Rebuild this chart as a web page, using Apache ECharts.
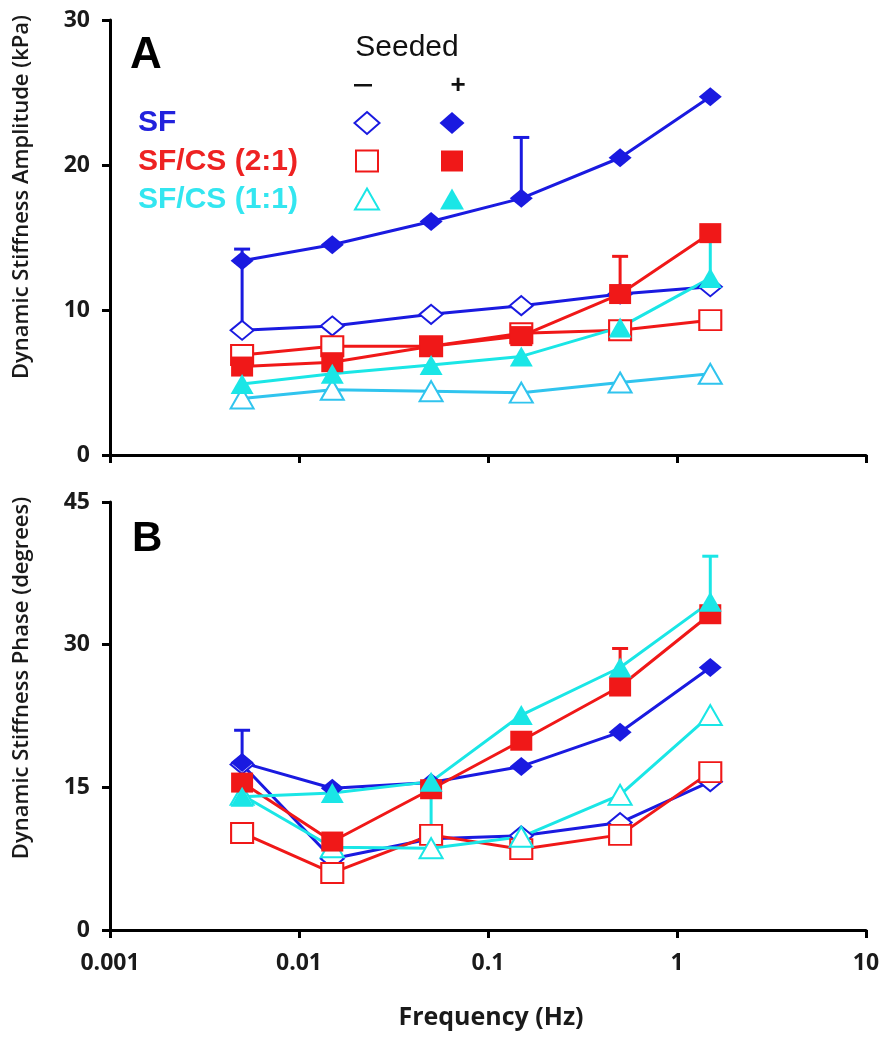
<!DOCTYPE html>
<html>
<head>
<meta charset="utf-8">
<script src="https://cdn.jsdelivr.net/npm/echarts@6/dist/echarts.min.js"></script>
<style>html,body{margin:0;padding:0;background:#fff}#c{width:891px;height:1050px}</style>
</head>
<body>
<div id="c"></div>
<script>
// ---------- data ----------
const freq = [0.005, 0.015, 0.05, 0.15, 0.5, 1.5];
const xTickLabels = ['0.001', '0.01', '0.1', '1', '10'];
const ampTicks = [0, 10, 20, 30];
const phaseTicks = [0, 15, 30, 45];

// Panel A: Dynamic stiffness amplitude (kPa)
const ampSFSeeded     = [13.4, 14.5, 16.1, 17.7, 20.5, 24.7];
const ampSFUnseeded   = [8.6, 8.9, 9.7, 10.3, 11.1, 11.6];
const ampCS21Seeded   = [6.1, 6.4, 7.5, 8.2, 11.1, 15.3];
const ampCS21Unseeded = [6.9, 7.5, 7.5, 8.4, 8.6, 9.3];
const ampCS11Seeded   = [4.9, 5.6, 6.2, 6.8, 8.8, 12.2];
const ampCS11Unseeded = [3.9, 4.5, 4.4, 4.3, 5.0, 5.6];
// error bar tops (null = none)
const ampSFSeededErr     = [14.2, null, null, 21.9, null, null];
const ampSFUnseededErr   = [13.3, null, null, null, null, null];
const ampCS21SeededErr   = [null, null, null, null, 13.7, null];
const ampCS11SeededErr   = [null, null, null, null, null, 15.0];

// Panel B: Dynamic stiffness phase (degrees)
const phSFSeeded     = [17.6, 14.9, 15.5, 17.2, 20.8, 27.6];
const phSFUnseeded   = [17.4, 7.5, 9.6, 9.9, 11.3, 15.6];
const phCS21Seeded   = [15.5, 9.3, 14.8, 19.9, 25.6, 33.2];
const phCS21Unseeded = [10.2, 6.0, 10.0, 8.5, 10.0, 16.6];
const phCS11Seeded   = [14.0, 14.4, 15.6, 22.6, 27.6, 34.5];
const phCS11Unseeded = [14.2, 8.7, 8.6, 9.8, 14.2, 22.6];
const phSFSeededErr     = [21.0, null, null, null, null, null];
const phCS21SeededErr   = [null, null, null, null, 29.6, null];
const phCS11SeededErr   = [null, null, null, null, null, 39.3];
const phCS11UnseededErr = [null, null, 15.2, null, null, null];

// ---------- styling ----------
const BLUE = '#1a1ae0', RED = '#f01818', CYAN = '#1ae6e6', SKY = '#30c4ee';
const SYM = { diamond: [23, 19], rect: [22, 20], triangle: [23, 20] };
const FONT = '"Open Sans", "DejaVu Sans", sans-serif';
const ARIAL = '"Liberation Sans", Arial, sans-serif';

function pairs(ys) { return freq.map((f, i) => [f, ys[i]]); }

function lineSeries(ys, idx, color, symbol, filled, lineColor) {
  return {
    type: 'line', xAxisIndex: idx, yAxisIndex: idx,
    data: pairs(ys), symbol: symbol, symbolSize: SYM[symbol],
    showSymbol: true, silent: true, animation: false,
    lineStyle: { color: lineColor || color, width: 3 },
    itemStyle: filled ? { color: color, borderWidth: 0, opacity: 1 }
                      : { color: '#ffffff', borderColor: color, borderWidth: 2, opacity: 1 },
    emphasis: { disabled: true }, z: 2
  };
}

function errSeries(ys, tops, idx, color) {
  const d = [];
  freq.forEach((f, i) => { if (tops[i] != null) d.push([f, ys[i], tops[i]]); });
  return {
    type: 'custom', xAxisIndex: idx, yAxisIndex: idx, data: d, silent: true, animation: false,
    encode: { x: 0, y: [1, 2] }, z: 1,
    renderItem: function (params, api) {
      const p0 = api.coord([api.value(0), api.value(1)]);
      const p1 = api.coord([api.value(0), api.value(2)]);
      return { type: 'group', children: [
        { type: 'line', shape: { x1: p0[0], y1: p0[1], x2: p1[0], y2: p1[1] }, style: { stroke: color, lineWidth: 3 } },
        { type: 'line', shape: { x1: p1[0] - 8, y1: p1[1], x2: p1[0] + 8, y2: p1[1] }, style: { stroke: color, lineWidth: 3 } }
      ]};
    }
  };
}

function xAxis(idx, showLabels) {
  return {
    type: 'log', logBase: 10, min: 0.001, max: 10, gridIndex: idx,
    axisLine: { show: true, onZero: false, lineStyle: { color: '#000', width: 3 } },
    axisTick: { show: true, inside: false, length: 8, lineStyle: { color: '#000', width: 3 } },
    axisLabel: {
      show: showLabels, margin: 22, color: '#1a1a1a', fontFamily: FONT, fontWeight: 'bold', fontSize: 23,
      formatter: function (v) { const k = Math.round(Math.log10(v)) + 3; return xTickLabels[k] != null ? xTickLabels[k] : ''; }
    },
    splitLine: { show: false }, minorTick: { show: false }
  };
}

function yAxis(idx, ticks) {
  return {
    type: 'value', gridIndex: idx, min: ticks[0], max: ticks[ticks.length - 1],
    interval: ticks[1] - ticks[0],
    axisLine: { show: true, lineStyle: { color: '#000', width: 3 } },
    axisTick: { show: true, inside: false, length: 8, lineStyle: { color: '#000', width: 3 } },
    axisLabel: { margin: 20, color: '#1a1a1a', fontFamily: FONT, fontWeight: 'bold', fontSize: 23 },
    splitLine: { show: false }
  };
}

function txt(x, y, text, font, color, align, rot) {
  return { type: 'text', x: x, y: y, rotation: rot || 0, silent: true, z: 10,
    style: { text: text, font: font, fill: color, align: align || 'left', verticalAlign: 'middle',
             textAlign: align || 'left', textVerticalAlign: 'middle' } };
}
function diamond(cx, cy, w, h, color, filled) {
  return { type: 'polygon', silent: true, z: 10,
    shape: { points: [[cx, cy - h / 2], [cx + w / 2, cy], [cx, cy + h / 2], [cx - w / 2, cy]] },
    style: filled ? { fill: color } : { fill: '#fff', stroke: color, lineWidth: 2 } };
}
function square(cx, cy, w, h, color, filled) {
  return { type: 'rect', silent: true, z: 10,
    shape: { x: cx - w / 2, y: cy - h / 2, width: w, height: h },
    style: filled ? { fill: color } : { fill: '#fff', stroke: color, lineWidth: 2 } };
}
function tri(cx, cy, w, h, color, filled) {
  return { type: 'polygon', silent: true, z: 10,
    shape: { points: [[cx, cy - h / 2], [cx + w / 2, cy + h / 2], [cx - w / 2, cy + h / 2]] },
    style: filled ? { fill: color } : { fill: '#fff', stroke: color, lineWidth: 2 } };
}

const chart = echarts.init(document.getElementById('c'), null, { renderer: 'canvas' });
chart.setOption({
  backgroundColor: '#ffffff',
  animation: false,
  grid: [
    { left: 110, top: 20, width: 756, height: 435, containLabel: false },
    { left: 110, top: 502, width: 756, height: 428, containLabel: false }
  ],
  xAxis: [xAxis(0, false), xAxis(1, true)],
  yAxis: [yAxis(0, ampTicks), yAxis(1, phaseTicks)],
  series: [
    errSeries(ampSFSeeded, ampSFSeededErr, 0, BLUE),
    errSeries(ampSFUnseeded, ampSFUnseededErr, 0, BLUE),
    errSeries(ampCS21Seeded, ampCS21SeededErr, 0, RED),
    errSeries(ampCS11Seeded, ampCS11SeededErr, 0, CYAN),
    lineSeries(ampSFUnseeded, 0, BLUE, 'diamond', false),
    lineSeries(ampCS21Unseeded, 0, RED, 'rect', false),
    lineSeries(ampCS11Unseeded, 0, SKY, 'triangle', false),
    lineSeries(ampSFSeeded, 0, BLUE, 'diamond', true),
    lineSeries(ampCS21Seeded, 0, RED, 'rect', true),
    lineSeries(ampCS11Seeded, 0, CYAN, 'triangle', true),

    errSeries(phSFSeeded, phSFSeededErr, 1, BLUE),
    errSeries(phCS21Seeded, phCS21SeededErr, 1, RED),
    errSeries(phCS11Seeded, phCS11SeededErr, 1, CYAN),
    errSeries(phCS11Unseeded, phCS11UnseededErr, 1, CYAN),
    lineSeries(phSFUnseeded, 1, BLUE, 'diamond', false),
    lineSeries(phCS21Unseeded, 1, RED, 'rect', false),
    lineSeries(phCS11Unseeded, 1, CYAN, 'triangle', false),
    lineSeries(phSFSeeded, 1, BLUE, 'diamond', true),
    lineSeries(phCS21Seeded, 1, RED, 'rect', true),
    lineSeries(phCS11Seeded, 1, CYAN, 'triangle', true)
  ],
  graphic: [
    txt(22, 197, 'Dynamic Stiffness Amplitude (kPa)', '600 22px ' + FONT, '#1a1a1a', 'center', Math.PI / 2),
    txt(22, 678, 'Dynamic Stiffness Phase (degrees)', '600 22px ' + FONT, '#1a1a1a', 'center', Math.PI / 2),
    txt(491, 1018, 'Frequency (Hz)', 'bold 25px ' + FONT, '#1a1a1a', 'center'),
    txt(130, 56, 'A', 'bold 44px ' + ARIAL, '#000', 'left'),
    txt(132, 539, 'B', 'bold 42px ' + ARIAL, '#000', 'left'),
    txt(407, 48, 'Seeded', '30px ' + ARIAL, '#111', 'center'),
    { type: 'rect', silent: true, z: 10, shape: { x: 354, y: 84, width: 18, height: 2.5 }, style: { fill: '#111' } },
    txt(458, 86, '+', 'bold 26px ' + ARIAL, '#111', 'center'),
    txt(138, 123, 'SF', 'bold 30px ' + ARIAL, '#2222dd', 'left'),
    txt(138, 162, 'SF/CS (2:1)', 'bold 30px ' + ARIAL, '#ee2222', 'left'),
    txt(138, 200, 'SF/CS (1:1)', 'bold 30px ' + ARIAL, '#33e6f0', 'left'),
    diamond(367, 123, 25, 22, BLUE, false),
    diamond(452, 123, 25, 22, BLUE, true),
    square(367, 161, 22, 21, RED, false),
    square(452, 161, 22, 21, RED, true),
    tri(367, 199, 24, 21, CYAN, false),
    tri(452, 199, 24, 21, CYAN, true)
  ]
});
</script>
</body>
</html>
